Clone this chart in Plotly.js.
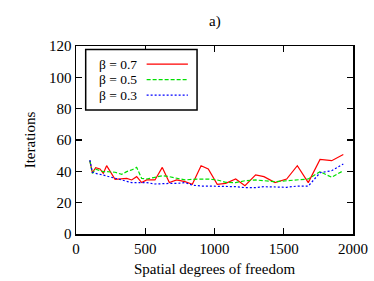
<!DOCTYPE html>
<html>
<head>
<meta charset="utf-8">
<script src="https://cdn.plot.ly/plotly-3.0.1.min.js"></script>
<style>html,body{margin:0;padding:0;background:#fff;}</style>
</head>
<body>
<div id="chart" style="width:374px;height:281px;"></div>
<script>
const dof = [100, 118, 142, 173, 197, 221, 282, 330, 366, 402, 438, 474, 510, 570, 623, 674, 727, 787, 840, 903, 955, 1020, 1081, 1153, 1220, 1297, 1357, 1437, 1521, 1598, 1677, 1762, 1846, 1930];
const beta07 = [46.8, 39.1, 42.3, 41.5, 38.7, 43.6, 34.9, 35.5, 35.5, 34.5, 36.6, 32.8, 34.5, 34.5, 42.5, 32.8, 34.5, 33.4, 31.7, 43.6, 41.5, 31.7, 32.3, 35.1, 30.8, 37.7, 36.6, 32.8, 35.1, 43.6, 32.8, 47.6, 46.8, 50.8];
const beta05 = [46.8, 38.7, 41.3, 40.4, 39.8, 39.8, 39.4, 38.1, 39.8, 40.9, 42.5, 35.5, 35.1, 36.2, 37.2, 36.6, 35.5, 34.5, 34.9, 34.9, 35.1, 34.5, 33.0, 32.8, 34.0, 34.5, 34.0, 33.4, 34.0, 34.5, 35.1, 39.8, 36.2, 40.4];
const beta03 = [47.2, 39.4, 38.7, 38.3, 37.6, 37.0, 35.5, 34.5, 33.4, 32.8, 32.8, 32.8, 32.8, 31.9, 32.3, 32.3, 32.3, 32.8, 31.2, 30.6, 30.6, 30.6, 30.6, 30.2, 29.6, 29.6, 30.2, 29.8, 29.8, 30.6, 30.6, 39.1, 40.4, 44.7];
const seriesNames = ["β = 0.7", "β = 0.5", "β = 0.3"];
const xTicks = [0, 500, 1000, 1500, 2000];
const yTicks = [0, 20, 40, 60, 80, 100, 120];

const colors = ["#ff0000", "#00e000", "#0000ff"];
const dashes = ["solid", "4px,2px", "2px,2px"];
const ys = [beta07, beta05, beta03];

const traces = ys.map((y, i) => ({
  x: dof, y: y, type: "scatter", mode: "lines", name: seriesNames[i],
  line: {color: colors[i], width: 1.2, dash: dashes[i]}, showlegend: false
}));

const font = {family: "Liberation Serif", size: 15, color: "#000"};
const legFont = {family: "Liberation Serif", size: 13.5, color: "#000"};

const shapes = [{type: "rect", xref: "paper", yref: "paper", x0: 0.035, x1: 0.437, y0: 0.66, y1: 0.982,
  line: {color: "#000", width: 1.5}, fillcolor: "#fff", layer: "above"}];
const annotations = [{text: "a)", xref: "paper", yref: "paper", x: 0.5, y: 1.13, xanchor: "center", yanchor: "middle", showarrow: false, font: font}];
const rowY = [0.904, 0.821, 0.739];
seriesNames.forEach((n, i) => {
  annotations.push({text: n, xref: "paper", yref: "paper", x: 0.225, y: rowY[i], xanchor: "right", yanchor: "middle", showarrow: false, font: legFont, borderpad: 0});
  shapes.push({type: "line", xref: "paper", yref: "paper", x0: 0.255, x1: 0.404, y0: rowY[i], y1: rowY[i],
    line: {color: colors[i], width: 1.3, dash: dashes[i]}, layer: "above"});
});

const layout = {
  width: 374, height: 281,
  margin: {l: 76, r: 21, t: 46, b: 47},
  paper_bgcolor: "#fff", plot_bgcolor: "#fff",
  font: font,
  xaxis: {range: [0, 2000], tickvals: xTicks, ticks: "inside", ticklen: 6, tickwidth: 1.2, tickcolor: "#000",
    showline: true, linecolor: "#000", linewidth: 1.5, mirror: "ticks", showgrid: false, zeroline: false,
    title: {text: "Spatial degrees of freedom", font: font, standoff: 8}, tickfont: font},
  yaxis: {range: [0, 120], tickvals: yTicks, ticks: "inside", ticklen: 6, tickwidth: 1.2, tickcolor: "#000",
    showline: true, linecolor: "#000", linewidth: 1.5, mirror: "ticks", showgrid: false, zeroline: false,
    title: {text: "Iterations", font: font, standoff: 10}, tickfont: font},
  shapes: shapes, annotations: annotations, showlegend: false
};
Plotly.newPlot("chart", traces, layout, {displayModeBar: false, staticPlot: true});
</script>
</body>
</html>
